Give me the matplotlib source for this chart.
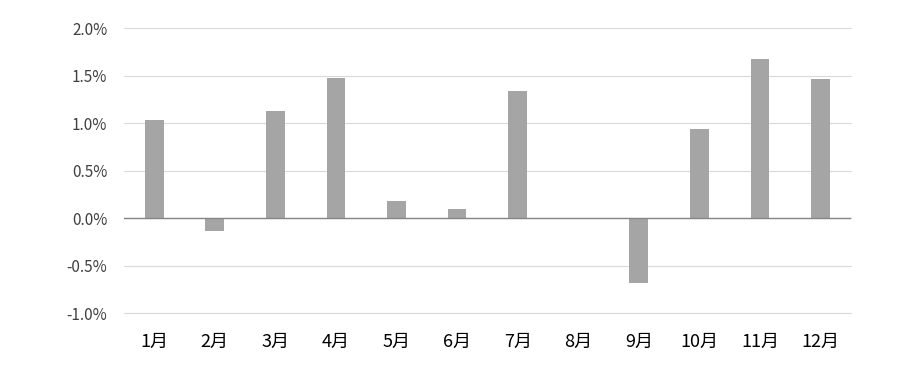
import matplotlib
matplotlib.use("Agg")
import matplotlib.pyplot as plt
from matplotlib.ticker import FuncFormatter

plt.rcParams['font.family'] = ['Noto Sans CJK SC', 'DejaVu Sans']

months = ['1月', '2月', '3月', '4月', '5月', '6月', '7月', '8月', '9月', '10月', '11月', '12月']
values = [1.03, -0.13, 1.13, 1.47, 0.18, 0.10, 1.34, 0.0, -0.68, 0.94, 1.67, 1.46]
yticks = [-1.0, -0.5, 0.0, 0.5, 1.0, 1.5, 2.0]

fig = plt.figure(figsize=(9.11, 3.65), dpi=100)
ax = fig.add_axes([0.136, 0.142, 0.798, 0.781])

x = list(range(len(months)))
ax.bar(x, values, width=0.31, color='#a5a5a5', zorder=3)
ax.set_xlim(-0.5, len(months) - 0.5)
ax.set_ylim(-1.0, 2.0)
ax.set_yticks(yticks)
ax.yaxis.set_major_formatter(FuncFormatter(lambda v, p: f'{v:.1f}%'))
ax.grid(axis='y', color='#d9d9d9', linewidth=0.8, zorder=0, clip_on=False)
for gl in ax.get_ygridlines():
    gl.set_clip_on(False)
ax.axhline(0, color='#868686', linewidth=1.0, zorder=4)
for s in ax.spines.values():
    s.set_visible(False)
ax.tick_params(axis='y', length=0, pad=12, labelsize=11, labelcolor='#404040')
ax.set_xticks(x)
ax.set_xticklabels(months, fontsize=13, fontweight='medium', color='#000000')
ax.tick_params(axis='x', length=0, pad=14)

fig.savefig('out.png', dpi=100)
